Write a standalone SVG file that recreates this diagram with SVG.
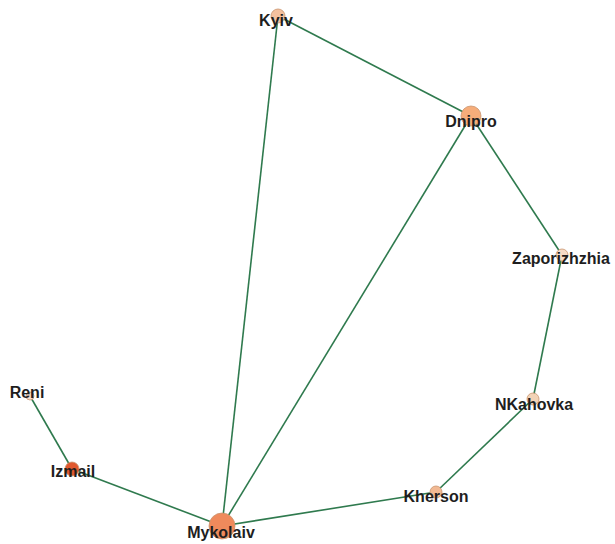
<svg xmlns="http://www.w3.org/2000/svg" width="615" height="544" viewBox="0 0 615 544">
<style>
.e{stroke:#2f7a4e;stroke-width:1.6;fill:none}
.n{stroke:#c9946e;stroke-width:0.8}
.t{font-family:"Liberation Sans",Arial,sans-serif;font-weight:bold;font-size:16px;fill:#1e1e1e;text-anchor:middle}
</style>
<rect width="615" height="544" fill="#ffffff"/>
<g id="connectors">
<line class="e" x1="278" y1="16" x2="471" y2="116"/>
<line class="e" x1="278" y1="16" x2="222" y2="526"/>
<line class="e" x1="471" y1="116" x2="222" y2="526"/>
<line class="e" x1="471" y1="116" x2="562" y2="255"/>
<line class="e" x1="562" y1="255" x2="533" y2="399"/>
<line class="e" x1="533" y1="399" x2="436" y2="492"/>
<line class="e" x1="436" y1="492" x2="222" y2="526"/>
<line class="e" x1="222" y1="526" x2="72" y2="469"/>
<line class="e" x1="72" y1="469" x2="30" y2="396"/>
</g>
<g id="node-kyiv"><circle class="n" cx="278" cy="16" r="7" fill="#f4c19f"/><text class="t" x="276" y="26">Kyiv</text></g>
<g id="node-dnipro"><circle class="n" cx="471" cy="116" r="10" fill="#f6ad7a"/><text class="t" x="471" y="127">Dnipro</text></g>
<g id="node-zaporizhzhia"><circle class="n" cx="562" cy="255" r="6" fill="#f7dcc6"/><text class="t" x="561" y="264">Zaporizhzhia</text></g>
<g id="node-nkahovka"><circle class="n" cx="533" cy="399" r="6" fill="#f2d3b6"/><text class="t" x="534" y="410">NKahovka</text></g>
<g id="node-kherson"><circle class="n" cx="436" cy="492" r="6" fill="#f2b993"/><text class="t" x="436" y="502">Kherson</text></g>
<g id="node-mykolaiv"><circle class="n" cx="222" cy="526" r="13" fill="#ef8a5c" stroke="#b8603a"/><text class="t" x="221" y="538">Mykolaiv</text></g>
<g id="node-izmail"><circle class="n" cx="72" cy="469" r="7" fill="#e0582e" stroke="#a84020"/><text class="t" x="73" y="477">Izmail</text></g>
<g id="node-reni"><circle class="n" cx="30" cy="396" r="4" fill="#f7ddcb"/><text class="t" x="27" y="398">Reni</text></g>
</svg>
